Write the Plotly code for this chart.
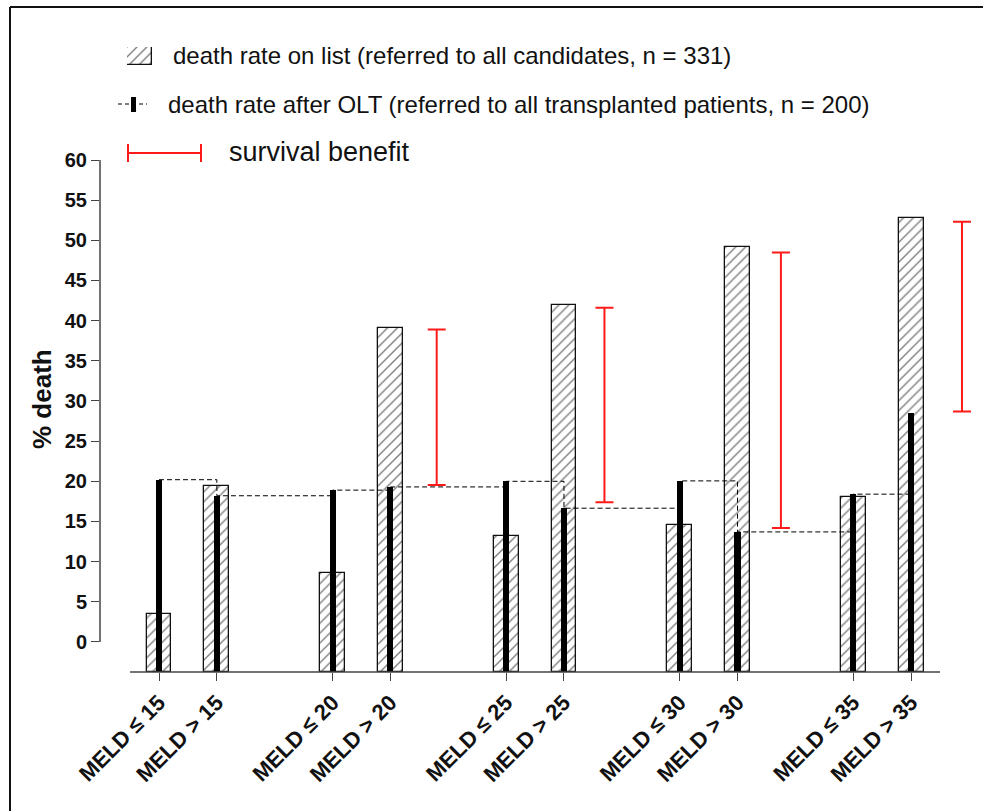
import plotly.graph_objects as go

# ---------------- data ----------------
categories = ["MELD ≤ 15", "MELD > 15", "MELD ≤ 20", "MELD > 20", "MELD ≤ 25",
              "MELD > 25", "MELD ≤ 30", "MELD > 30", "MELD ≤ 35", "MELD > 35"]
x_pos = [0, 1, 3, 4, 6, 7, 9, 10, 12, 13]
death_on_list = [3.45, 19.4, 8.55, 39.1, 13.2, 42.0, 14.6, 49.2, 18.1, 52.8]
death_after_olt = [20.2, 18.2, 18.9, 19.3, 20.0, 16.65, 20.05, 13.7, 18.4, 28.5]
benefit_x = [4.8, 7.7, 10.75, 13.88]
benefit_low = [19.55, 17.4, 14.2, 28.7]
benefit_high = [38.9, 41.6, 48.5, 52.3]
y_ticks = list(range(0, 61, 5))

legend_list = "death rate on list (referred to all candidates, n = 331)"
legend_olt = "death rate after OLT (referred to all transplanted patients, n = 200)"
legend_benefit = "survival benefit"

# ---------------- layout geometry ----------------
W, H = 983, 811
L, R, T, B = 100, 8, 10, 139
YMIN, YMAX = -3.74, 60
XR = [-1.02, 14.105]
FONT = "Liberation Sans, Arial, sans-serif"
RED = "#ff1a1a"


def px(x):
    return (x - L) / (W - L - R)


def py(y):
    return (H - B - y) / (H - B - T)


def xi(i):
    return (i - XR[0]) / (XR[1] - XR[0])


def yv(v):
    return (v - YMIN) / (YMAX - YMIN) * py(160)


HATCH = dict(shape="/", fgcolor="#000", bgcolor="white", size=7, solidity=0.2)

fig = go.Figure()

# hatched bars: death rate on list
fig.add_trace(go.Bar(
    x=x_pos, y=[v - YMIN for v in death_on_list], base=YMIN, width=0.43,
    marker=dict(color="white", line=dict(color="#111", width=1.3), pattern=HATCH),
    showlegend=False, hoverinfo="skip"))

# black bars: death rate after OLT
fig.add_trace(go.Bar(
    x=x_pos, y=[v - YMIN for v in death_after_olt], base=YMIN, width=0.105,
    marker=dict(color="black", line=dict(width=0)),
    showlegend=False, hoverinfo="skip"))

# dashed step line connecting OLT bar tops
fig.add_trace(go.Scatter(
    x=x_pos, y=death_after_olt, mode="lines", line_shape="hv",
    line=dict(color="black", width=1, dash="5px,3px"),
    showlegend=False, hoverinfo="skip"))

# survival benefit (red range bars)
fig.add_trace(go.Scatter(
    x=benefit_x, y=benefit_low, mode="markers",
    marker=dict(size=1, color="rgba(0,0,0,0)"),
    error_y=dict(type="data", symmetric=False,
                 array=[h - l for h, l in zip(benefit_high, benefit_low)],
                 arrayminus=[0] * len(benefit_low),
                 color=RED, thickness=2, width=9),
    showlegend=False, hoverinfo="skip"))

# legend swatch for hatched bars (mini axes)
fig.add_trace(go.Bar(
    x=[0.5], y=[1], width=1, xaxis="x2", yaxis="y2",
    marker=dict(color="white", line=dict(color="#111", width=1.3), pattern=HATCH),
    showlegend=False, hoverinfo="skip"))

shapes = []
# y axis line (0..60)
shapes.append(dict(type="line", xref="paper", yref="paper",
                   x0=0, x1=0, y0=yv(0), y1=yv(60),
                   line=dict(color="#444", width=1.5)))
# x axis line
shapes.append(dict(type="line", xref="paper", yref="paper",
                   x0=xi(-0.5), x1=xi(13.5), y0=0, y1=0,
                   line=dict(color="#444", width=1.5)))
# frame border (left and top)
shapes.append(dict(type="line", xref="paper", yref="paper",
                   x0=px(10), x1=px(10), y0=py(812), y1=py(7),
                   line=dict(color="#111", width=2)))
shapes.append(dict(type="line", xref="paper", yref="paper",
                   x0=px(10), x1=px(984), y0=py(7), y1=py(7),
                   line=dict(color="#111", width=2)))
# legend 2: dashed line with black bar
shapes.append(dict(type="line", xref="paper", yref="paper",
                   x0=px(118), x1=px(147), y0=py(104), y1=py(104),
                   line=dict(color="black", width=1, dash="4px,3px")))
shapes.append(dict(type="rect", xref="paper", yref="paper",
                   x0=px(131), x1=px(136), y0=py(112), y1=py(97),
                   fillcolor="black", line=dict(width=0)))
# legend 3: red range bar
shapes.append(dict(type="line", xref="paper", yref="paper",
                   x0=px(128), x1=px(201), y0=py(153), y1=py(153),
                   line=dict(color=RED, width=2)))
for xx in (128, 201):
    shapes.append(dict(type="line", xref="paper", yref="paper",
                       x0=px(xx), x1=px(xx), y0=py(144), y1=py(162),
                       line=dict(color=RED, width=2)))

annotations = [
    dict(text=legend_list, xref="paper", yref="paper", x=px(171), y=py(56),
         xanchor="left", yanchor="middle", showarrow=False,
         font=dict(family=FONT, size=24, color="#111")),
    dict(text=legend_olt, xref="paper", yref="paper", x=px(166), y=py(104),
         xanchor="left", yanchor="middle", showarrow=False,
         font=dict(family=FONT, size=24, color="#111")),
    dict(text=legend_benefit, xref="paper", yref="paper", x=px(227), y=py(152),
         xanchor="left", yanchor="middle", showarrow=False,
         font=dict(family=FONT, size=27, color="#111")),
    dict(text="% death", xref="paper", yref="paper", x=px(42), y=py(399),
         xanchor="center", yanchor="middle", showarrow=False, textangle=-90,
         font=dict(family=FONT, size=26, color="#111", weight="bold")),
]

fig.update_layout(
    width=W, height=H,
    margin=dict(l=L, r=R, t=T, b=B, pad=0, autoexpand=False),
    paper_bgcolor="white", plot_bgcolor="white",
    barmode="overlay", bargap=0,
    shapes=shapes, annotations=annotations,
    xaxis=dict(range=XR, domain=[0, 1], tickvals=x_pos, ticktext=categories,
               tickangle=-45, ticks="outside", ticklen=8, tickwidth=1,
               tickcolor="#444", showline=False, showgrid=False, zeroline=False,
               automargin=False,
               tickfont=dict(family=FONT, size=22, color="#111", weight="bold"),
               fixedrange=True),
    yaxis=dict(range=[YMIN, YMAX], domain=[0, py(160)], tickvals=y_ticks,
               ticks="outside", ticklen=8, tickwidth=1, tickcolor="#444",
               showline=False, showgrid=False, zeroline=False,
               automargin=False,
               tickfont=dict(family=FONT, size=20, color="#111", weight="bold"),
               fixedrange=True),
    xaxis2=dict(domain=[px(127), px(152)], range=[0, 1], anchor="y2",
                visible=False, fixedrange=True, automargin=False),
    yaxis2=dict(domain=[py(65), py(47)], range=[0, 1], anchor="x2",
                visible=False, fixedrange=True, automargin=False),
)

fig.write_html("out.html", config={"displayModeBar": False},
               post_script="document.body.style.margin='0';document.body.style.overflow='hidden';")
